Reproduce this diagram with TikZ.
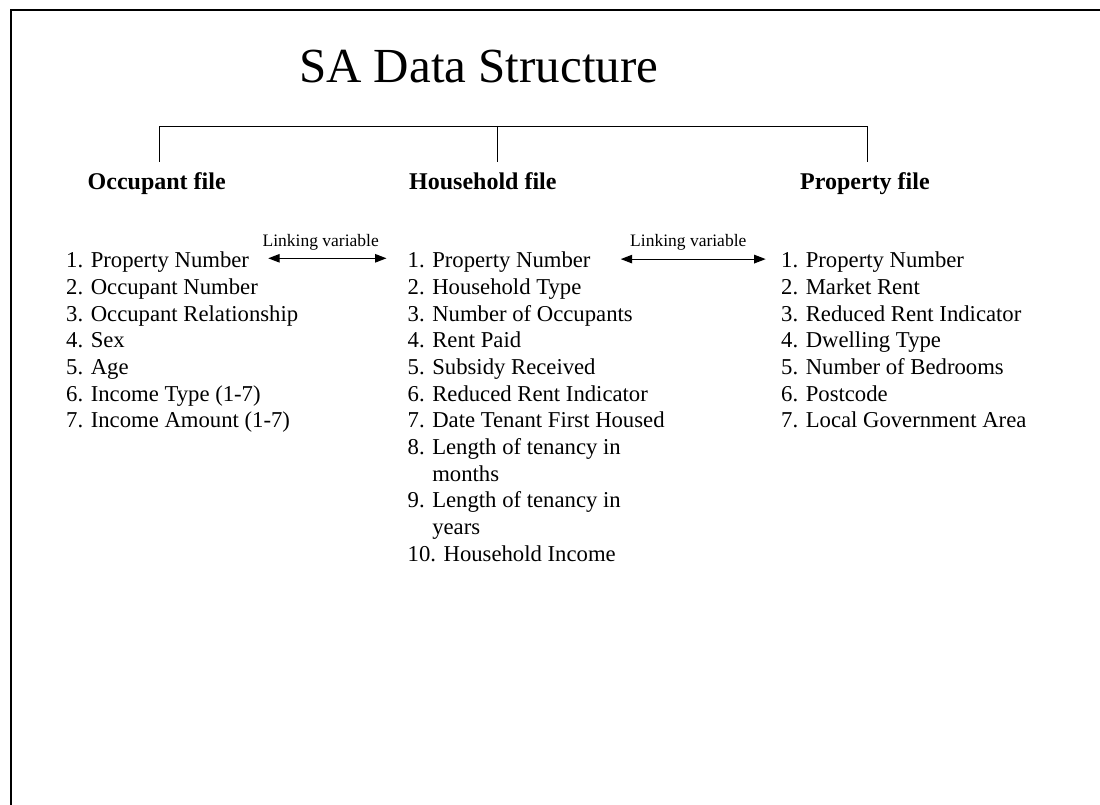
\documentclass[tikz,border=0pt]{standalone}
\usepackage{fontspec}
\setmainfont{Liberation Serif}
\usetikzlibrary{arrows.meta}
\begin{document}
\begin{tikzpicture}[x=1pt,y=-1pt,
  item/.style={anchor=base west, inner sep=0pt, font=\fontsize{22.7}{26.67}\selectfont},
  head/.style={anchor=base west, inner sep=0pt, font=\fontsize{24}{28}\selectfont\bfseries},
  linklabel/.style={anchor=base, inner sep=0pt, font=\fontsize{17.5}{20}\selectfont},
  link/.style={{Triangle[length=11.5pt,width=8.5pt]}-{Triangle[length=11.5pt,width=8.5pt]}, line width=1.2pt},
  tree/.style={line width=0.9pt},
  frame/.style={line width=1.6pt}]
\useasboundingbox (0,0) rectangle (1100,805);
% frame (top and left edges)
\coordinate (fB) at (11,806);
\coordinate (fC) at (11,10);
\coordinate (fR) at (1101,10);
\draw[frame] (fB) -- (fC) -- (fR);
% title
\node[anchor=base, inner sep=0pt, font=\fontsize{49}{56}\selectfont] (title) at (478.7,82.3) {SA Data Structure};
% tree
\coordinate (tL) at (159,126);
\coordinate (tM) at (497,126);
\coordinate (tR) at (867,126);
\coordinate (bL) at (159,162);
\coordinate (bM) at (497,162);
\coordinate (bR) at (867,162);
\draw[tree] (bL) -- (tL) -- (tR) -- (bR);
\draw[tree] (tM) -- (bM);
% headers
\node[head] (hOcc) at (87.5,190) {Occupant file};
\node[head] (hHH) at (409,190) {Household file};
\node[head] (hProp) at (800,190) {Property file};
% lists
\foreach \t [count=\i] in {1. Property Number, 2. Occupant Number, 3. Occupant Relationship, 4. Sex, 5. Age, 6. Income Type (1-7), 7. Income Amount (1-7)}
  \node[item] (occ\i) at (66,{267.7+26.67*(\i-1)}) {\t};
\foreach \t [count=\i] in {1. Property Number, 2. Household Type, 3. Number of Occupants, 4. Rent Paid, 5. Subsidy Received, 6. Reduced Rent Indicator, 7. Date Tenant First Housed, 8. Length of tenancy in, \phantom{8. }months, 9. Length of tenancy in, \phantom{9. }years, 10. Household Income}
  \node[item] (hh\i) at (407.5,{267.7+26.67*(\i-1)}) {\t};
\foreach \t [count=\i] in {1. Property Number, 2. Market Rent, 3. Reduced Rent Indicator, 4. Dwelling Type, 5. Number of Bedrooms, 6. Postcode, 7. Local Government Area}
  \node[item] (pr\i) at (781,{267.7+26.67*(\i-1)}) {\t};
% linking variables
\node[linklabel] (lab1) at (320.7,246.7) {Linking variable};
\node[linklabel] (lab2) at (688.3,246.7) {Linking variable};
\draw[link] ([xshift=19pt,yshift=9.4pt]occ1.base east) -- ([xshift=-21pt,yshift=9.4pt]hh1.base west);
\draw[link] ([xshift=30pt,yshift=8.6pt]hh1.base east) -- ([xshift=-15.3pt,yshift=8.6pt]pr1.base west);
\end{tikzpicture}
\end{document}
